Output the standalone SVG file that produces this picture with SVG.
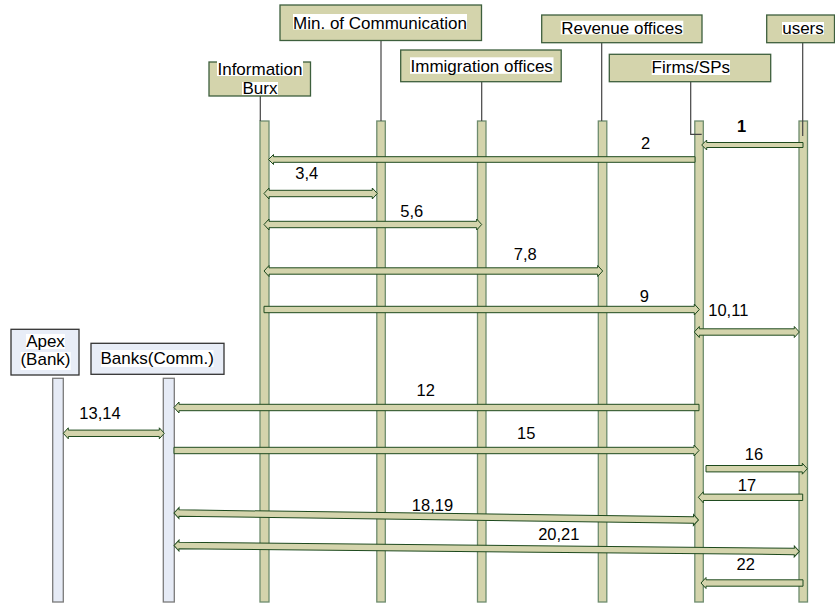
<svg xmlns="http://www.w3.org/2000/svg" width="835" height="603" viewBox="0 0 835 603">
<style>
.hdr{fill:#d4d4ac;stroke:#3d5f3d;stroke-width:1.3}
.hdrb{fill:#e8edf7;stroke:#333;stroke-width:1.3}
.life{fill:#d4d4ac;stroke:#6e8c6e;stroke-width:1.3}
.lifeb{fill:#e6ebf6;stroke:#7a7a7a;stroke-width:1.3}
.arr{fill:#d4d4ac;stroke:#1e4a1e;stroke-width:1}
.drop{stroke:#444;stroke-width:1.2;fill:none}
.hl{fill:#fff}
.t{font-family:"Liberation Sans",Arial,sans-serif;font-size:17px;fill:#000;text-anchor:middle}
.lbl{font-family:"Liberation Sans",Arial,sans-serif;font-size:16.5px;fill:#000;text-anchor:middle}
</style>
<rect width="835" height="603" fill="#fff"/>

<g id="info-burx">
<rect class="life" x="260" y="121" width="9" height="481"/>
<line class="drop" x1="260.3" y1="96" x2="260.3" y2="121"/>
<rect class="hdr" x="209" y="62" width="101.5" height="34"/>
<rect class="hl" x="217" y="61" width="86" height="15"/>
<rect class="hl" x="242" y="82" width="36" height="13"/>
<text class="t" x="260" y="75">Information</text>
<text class="t" x="260" y="94">Burx</text>
</g>

<g id="min-communication">
<rect class="life" x="376.8" y="121" width="8.5" height="481"/>
<line class="drop" x1="381" y1="40.5" x2="381" y2="121"/>
<rect class="hdr" x="280" y="5" width="201.5" height="35.5"/>
<rect class="hl" x="293" y="14" width="174" height="15.5"/>
<text class="t" x="380" y="28.5">Min. of Communication</text>
</g>

<g id="immigration-offices">
<rect class="life" x="477.5" y="121" width="8.5" height="481"/>
<line class="drop" x1="481.7" y1="81.7" x2="481.7" y2="121"/>
<rect class="hdr" x="400.7" y="50" width="160.5" height="31.7"/>
<rect class="hl" x="410" y="57.3" width="143.5" height="16.5"/>
<text class="t" x="481.7" y="71.5">Immigration offices</text>
</g>

<g id="revenue-offices">
<rect class="life" x="598.3" y="121" width="8.5" height="481"/>
<line class="drop" x1="601.7" y1="42.7" x2="601.7" y2="121"/>
<rect class="hdr" x="541.7" y="15" width="160.3" height="27.7"/>
<rect class="hl" x="560.7" y="20.7" width="122.6" height="13.8"/>
<text class="t" x="622" y="34.3">Revenue offices</text>
</g>

<g id="users">
<rect class="life" x="799" y="121" width="8.5" height="481"/>
<line class="drop" x1="802.7" y1="42.7" x2="802.7" y2="136"/>
<rect class="hdr" x="766.7" y="15" width="67.8" height="27.7"/>
<rect class="hl" x="782" y="22" width="42" height="12.5"/>
<text class="t" x="803" y="34.3">users</text>
</g>

<g id="firms-sps">
<rect class="life" x="694.8" y="121" width="8.5" height="481"/>
<polyline class="drop" points="690.7,81.7 690.7,134.3 701.7,134.3"/>
<rect class="hdr" x="609.3" y="54.3" width="161.4" height="27.4"/>
<rect class="hl" x="651.7" y="60" width="78.3" height="15"/>
<text class="t" x="690.8" y="72.5">Firms/SPs</text>
</g>

<g id="apex-bank">
<rect class="lifeb" x="52.7" y="378.3" width="10.6" height="223.7"/>
<rect class="hdrb" x="11" y="329.3" width="68" height="45.7"/>
<rect class="hl" x="26" y="334" width="39" height="15"/>
<rect class="hl" x="20.7" y="352" width="50" height="18"/>
<text class="t" x="45.5" y="347">Apex</text>
<text class="t" x="45.5" y="365">(Bank)</text>
</g>

<g id="banks-comm">
<rect class="lifeb" x="163.3" y="378.3" width="11" height="223.7"/>
<rect class="hdrb" x="91" y="343.3" width="133" height="31"/>
<rect class="hl" x="101" y="350" width="112.5" height="17"/>
<text class="t" x="157.2" y="364">Banks(Comm.)</text>
</g>

<g id="connectors">
<path class="arr" transform="translate(0,145)" d="M701.7,0 L706.7,-5 L706.7,-2.5 L803,-2.5 L803,2.5 L706.7,2.5 L706.7,5 Z"/>
<path class="arr" transform="translate(0,159.5)" d="M268.5,0 L273.5,-5 L273.5,-2.8 L695,-2.8 L695,2.8 L273.5,2.8 L273.5,5 Z"/>
<path class="arr" transform="translate(0,193.5)" d="M264,0 L269,-5.5 L269,-3.2 L372.3,-3.2 L372.3,-5.5 L377.3,0 L372.3,5.5 L372.3,3.2 L269,3.2 L269,5.5 Z"/>
<path class="arr" transform="translate(0,224.5)" d="M264,0 L269,-5.5 L269,-3.2 L476.7,-3.2 L476.7,-5.5 L481.7,0 L476.7,5.5 L476.7,3.2 L269,3.2 L269,5.5 Z"/>
<path class="arr" transform="translate(0,271)" d="M264,0 L269,-5.5 L269,-3.2 L597.7,-3.2 L597.7,-5.5 L602.7,0 L597.7,5.5 L597.7,3.2 L269,3.2 L269,5.5 Z"/>
<path class="arr" transform="translate(0,309.5)" d="M264,-3.2 L694.3,-3.2 L694.3,-5.5 L699.3,0 L694.3,5.5 L694.3,3.2 L264,3.2 Z"/>
<path class="arr" transform="translate(0,332)" d="M694.3,0 L699.3,-5.5 L699.3,-3.2 L794.3,-3.2 L794.3,-5.5 L799.3,0 L794.3,5.5 L794.3,3.2 L699.3,3.2 L699.3,5.5 Z"/>
<path class="arr" transform="translate(0,407.5)" d="M174,0 L179,-5.5 L179,-3.2 L699,-3.2 L699,3.2 L179,3.2 L179,5.5 Z"/>
<path class="arr" transform="translate(0,433.3)" d="M63.3,0 L68.3,-5.5 L68.3,-3.2 L159.3,-3.2 L159.3,-5.5 L164.3,0 L159.3,5.5 L159.3,3.2 L68.3,3.2 L68.3,5.5 Z"/>
<path class="arr" transform="translate(0,450.5)" d="M174,-3.2 L694,-3.2 L694,-5.5 L699,0 L694,5.5 L694,3.2 L174,3.2 Z"/>
<path class="arr" transform="translate(0,468.7)" d="M706,-3.2 L802.3,-3.2 L802.3,-5.5 L807.3,0 L802.3,5.5 L802.3,3.2 L706,3.2 Z"/>
<path class="arr" transform="translate(0,497.3)" d="M698.3,0 L703.3,-5.5 L703.3,-3.2 L802.7,-3.2 L802.7,3.2 L703.3,3.2 L703.3,5.5 Z"/>
<path class="arr" transform="translate(174,513) rotate(0.765)" d="M0,0 L5,-5.5 L5,-3.2 L519.5,-3.2 L519.5,-5.5 L524.5,0 L519.5,5.5 L519.5,3.2 L5,3.2 L5,5.5 Z"/>
<path class="arr" transform="translate(174,545.5) rotate(0.55)" d="M0,0 L5,-5.5 L5,-3.2 L620.3,-3.2 L620.3,-5.5 L625.3,0 L620.3,5.5 L620.3,3.2 L5,3.2 L5,5.5 Z"/>
<path class="arr" transform="translate(0,583)" d="M701,0 L706,-5.5 L706,-3.2 L803,-3.2 L803,3.2 L706,3.2 L706,5.5 Z"/>

<text class="lbl" x="741.7" y="131.5" font-weight="bold">1</text>
<text class="lbl" x="645.5" y="149">2</text>
<text class="lbl" x="306.7" y="179">3,4</text>
<text class="lbl" x="411.7" y="217">5,6</text>
<text class="lbl" x="525.3" y="260">7,8</text>
<text class="lbl" x="644.3" y="302">9</text>
<text class="lbl" x="728.3" y="316">10,11</text>
<text class="lbl" x="425.8" y="396">12</text>
<text class="lbl" x="100" y="418.5">13,14</text>
<text class="lbl" x="526.3" y="439">15</text>
<text class="lbl" x="754" y="460">16</text>
<text class="lbl" x="747" y="491">17</text>
<text class="lbl" x="432.5" y="510.5">18,19</text>
<text class="lbl" x="558.8" y="540">20,21</text>
<text class="lbl" x="745.8" y="570">22</text>
</g>
</svg>
